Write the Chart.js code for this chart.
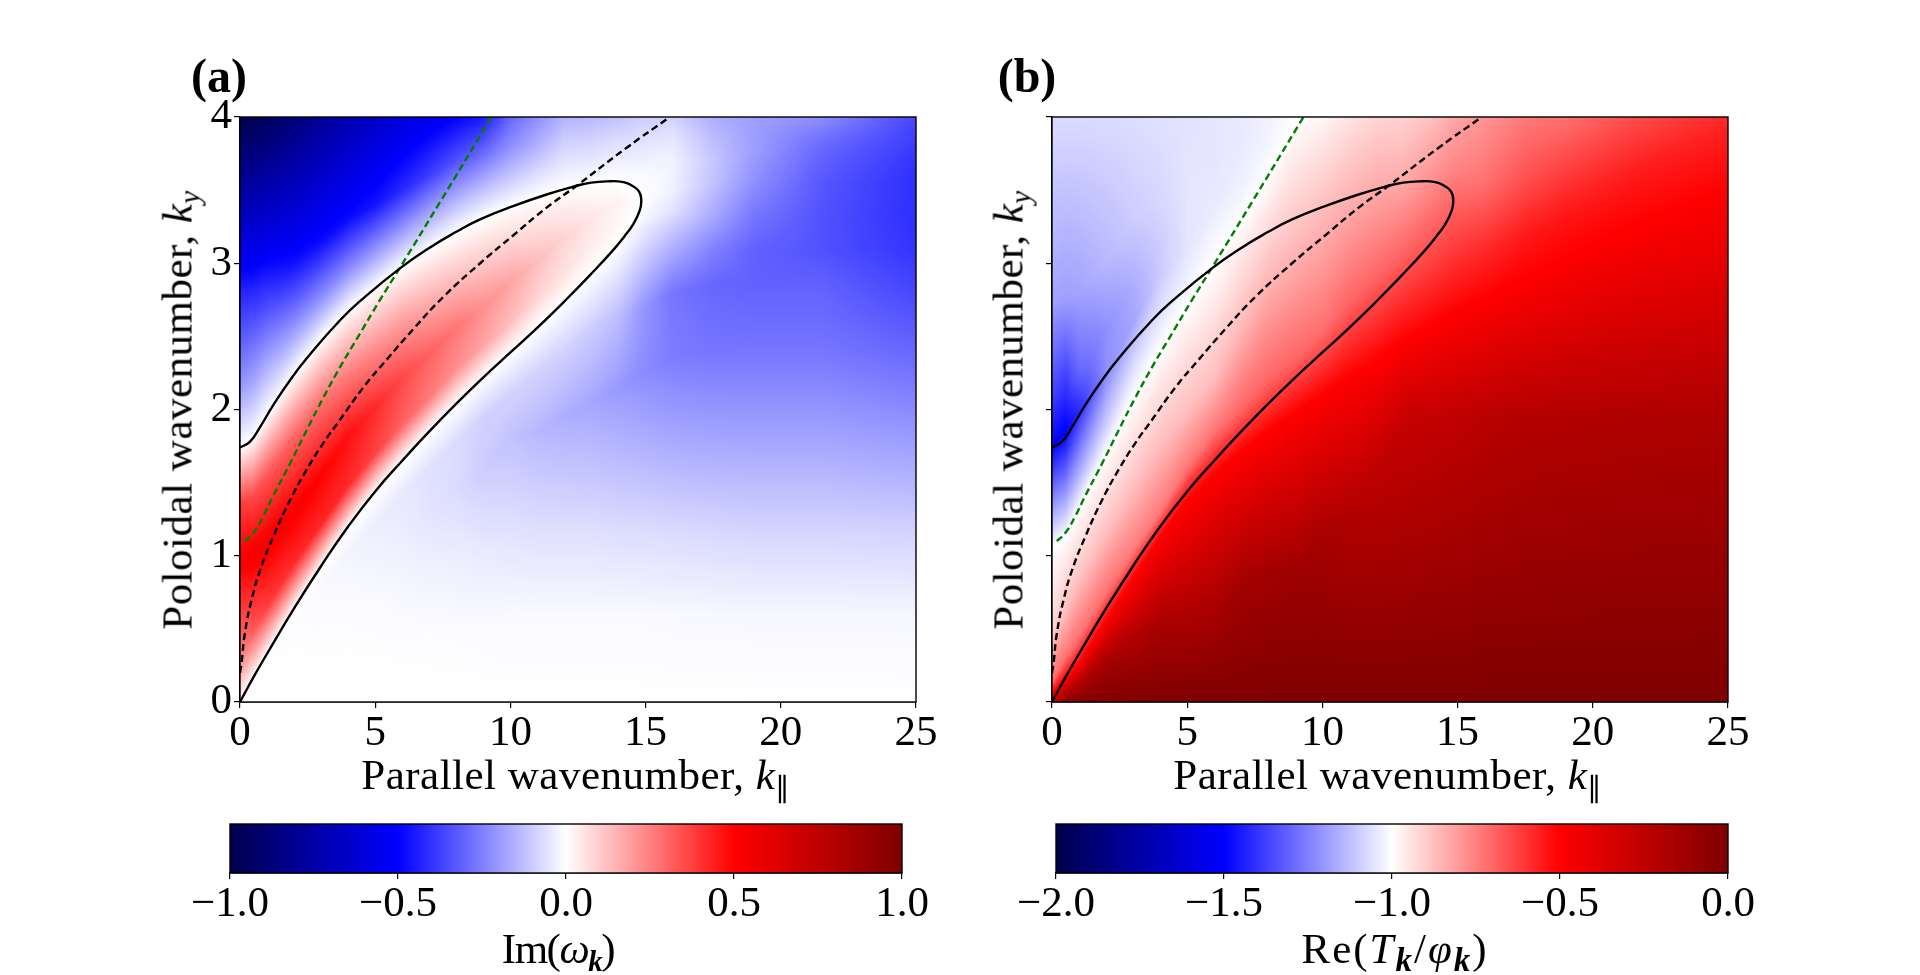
<!DOCTYPE html>
<html>
<head>
<meta charset="utf-8">
<script src="https://cdn.jsdelivr.net/npm/chart.js@4"></script>
<style>
html, body { margin: 0; padding: 0; background: #fff; width: 1920px; height: 975px; overflow: hidden; }
canvas { position: absolute; }
.lbl { position: absolute; font-family: "Liberation Serif", serif; font-size: 43px; color: #000; white-space: nowrap; line-height: 1; transform: translate(-50%, -50%); }
.lbl sub { font-size: 29px; line-height: 0; vertical-align: -8px; }
.rot { transform: translate(-50%, -50%) rotate(-90deg); }
.pan { font-weight: bold; font-size: 48px; }
</style>
</head>
<body>
<canvas id="panelA"></canvas>
<canvas id="panelB"></canvas>
<canvas id="barA"></canvas>
<canvas id="barB"></canvas>

<div class="lbl pan" style="left:219px;top:76px">(a)</div>
<div class="lbl pan" style="left:1027px;top:76px">(b)</div>
<div class="lbl" style="left:576px;top:774px;letter-spacing:0.5px">Parallel wavenumber, <i>k</i><sub>∥</sub></div>
<div class="lbl" style="left:1388px;top:774px;letter-spacing:0.5px">Parallel wavenumber, <i>k</i><sub>∥</sub></div>
<div class="lbl rot" style="left:177px;top:410px;letter-spacing:0.5px">Poloidal wavenumber, <i>k</i><sub><i>y</i></sub></div>
<div class="lbl rot" style="left:1008px;top:410px;letter-spacing:0.5px">Poloidal wavenumber, <i>k</i><sub><i>y</i></sub></div>
<div class="lbl" style="left:558px;top:948px;letter-spacing:-1.5px">Im(<i>ω</i><sub><b><i>k</i></b></sub>)</div>
<div class="lbl" style="left:1395px;top:948px;letter-spacing:2px">Re(<i>T</i><sub style="font-size:33px"><b><i>k</i></b></sub>/<i>φ</i><sub style="font-size:33px"><b><i>k</i></b></sub>)</div>

<script>
// kParallel columns of the two maps
var kColumns = [0, 0.5, 1, 2, 3, 4, 5, 6, 7, 8, 9, 10, 11, 12, 13, 14, 14.85, 16, 17.5, 19, 21.5, 25];

// Im(omega): for each column the ky of the read points and the value there
var growthY = [
  [0, 0, 0, 0, 0, 0, .3, .95, 1.35, 1.74, 2.2, 2.8, 4],
  [0, .03, .06, .09, .12, .16, .5, 1, 1.4, 1.81, 2.2, 2.8, 4],
  [0, .06, .12, .18, .24, .33, .65, 1.08, 1.55, 1.96, 2.3, 2.85, 4],
  [0, .15, .3, .42, .52, .64, .95, 1.3, 1.8, 2.24, 2.55, 3, 4],
  [0, .25, .45, .65, .78, .93, 1.22, 1.55, 2.05, 2.48, 2.75, 3.15, 4],
  [0, .3, .6, .85, 1.02, 1.2, 1.48, 1.82, 2.25, 2.68, 2.95, 3.3, 4],
  [0, .35, .7, 1, 1.22, 1.44, 1.7, 2.02, 2.42, 2.83, 3.08, 3.4, 4],
  [0, .4, .8, 1.15, 1.42, 1.65, 1.9, 2.22, 2.6, 2.98, 3.2, 3.5, 4],
  [0, .45, .9, 1.3, 1.6, 1.85, 2.08, 2.38, 2.74, 3.1, 3.32, 3.6, 4],
  [0, .47, 1, 1.45, 1.78, 2.04, 2.28, 2.56, 2.88, 3.21, 3.42, 3.7, 4],
  [0, .47, 1, 1.6, 1.95, 2.22, 2.44, 2.7, 3, 3.31, 3.5, 3.75, 4],
  [0, .6, 1.15, 1.8, 2.1, 2.39, 2.6, 2.87, 3.12, 3.39, 3.55, 3.8, 4],
  [0, .6, 1.15, 1.85, 2.25, 2.56, 2.78, 3.02, 3.24, 3.45, 3.6, 3.8, 4],
  [0, .6, 1.15, 1.95, 2.4, 2.74, 2.95, 3.18, 3.35, 3.51, 3.65, 3.85, 4],
  [0, .6, 1.15, 2.05, 2.55, 2.93, 3.12, 3.3, 3.43, 3.55, 3.68, 3.85, 4],
  [0, .6, 1.15, 2.15, 2.63, 3.12, 3.26, 3.42, 3.5, 3.555, 3.68, 3.85, 4],
  [0, .6, 1.15, 2.25, 2.7, 3.15, 3.32, 3.42, 3.43, 3.44, 3.6, 3.8, 4],
  [0, .6, 1.15, 2.35, 2.8, 3.15, 3.35, 3.5, 3.65, 3.72, 3.8, 3.9, 4],
  [0, .6, 1.15, 2.4, 2.86, 3.09, 3.32, 3.55, 3.7, 3.77, 3.85, 3.95, 4],
  [0, .6, 1.15, 2.41, 2.86, 3.09, 3.32, 3.55, 3.7, 3.77, 3.85, 3.95, 4],
  [0, .6, 1.15, 2.41, 2.86, 3.09, 3.32, 3.55, 3.7, 3.77, 3.85, 3.95, 4],
  [0, .6, 1.15, 2.41, 2.86, 3.09, 3.32, 3.55, 3.7, 3.77, 3.85, 3.95, 4]
];
var growthV = [
  [0, 0, 0, 0, 0, 0, .24, .52, .38, 0, -.22, -.43, -1],
  [0, 0, -.001, -.001, -.001, 0, .33, .53, .36, 0, -.18, -.42, -.98],
  [0, -.001, -.001, -.002, -.002, 0, .38, .53, .33, 0, -.16, -.42, -.95],
  [0, -.001, -.002, -.003, -.005, 0, .42, .52, .31, 0, -.2, -.47, -.88],
  [0, -.002, -.004, -.008, -.012, 0, .43, .5, .28, 0, -.21, -.48, -.8],
  [0, -.002, -.006, -.015, -.022, 0, .42, .47, .25, 0, -.22, -.48, -.72],
  [0, -.003, -.01, -.025, -.035, 0, .37, .42, .22, 0, -.2, -.46, -.66],
  [0, -.004, -.018, -.035, -.045, 0, .31, .36, .19, 0, -.18, -.42, -.6],
  [0, -.005, -.027, -.055, -.06, 0, .26, .31, .16, 0, -.16, -.38, -.55],
  [0, -.006, -.035, -.07, -.07, 0, .22, .27, .13, 0, -.14, -.34, -.5],
  [0, -.007, -.04, -.1, -.09, 0, .18, .22, .11, 0, -.12, -.29, -.45],
  [0, -.012, -.055, -.12, -.09, 0, .13, .18, .09, 0, -.09, -.22, -.3],
  [0, -.012, -.06, -.14, -.09, 0, .09, .13, .065, 0, -.06, -.15, -.22],
  [0, -.012, -.06, -.16, -.09, 0, .06, .085, .045, 0, -.04, -.1, -.15],
  [0, -.012, -.06, -.175, -.1, 0, .035, .05, .025, 0, -.04, -.09, -.14],
  [0, -.012, -.065, -.2, -.13, 0, .015, .025, .01, 0, -.025, -.07, -.12],
  [0, -.012, -.065, -.225, -.2, -.06, -.01, 0, 0, 0, -.01, -.05, -.1],
  [0, -.014, -.07, -.255, -.27, -.14, -.06, -.03, -.025, -.03, -.04, -.06, -.09],
  [0, -.015, -.075, -.27, -.3, -.25, -.17, -.12, -.11, -.12, -.13, -.15, -.16],
  [0, -.016, -.08, -.27, -.31, -.31, -.27, -.22, -.2, -.19, -.19, -.19, -.19],
  [0, -.016, -.08, -.27, -.31, -.34, -.34, -.33, -.31, -.3, -.28, -.24, -.22],
  [0, -.018, -.085, -.3, -.37, -.4, -.41, -.41, -.4, -.39, -.38, -.37, -.36]
];

// Re(T/phi), same idea
var ratioY = [
  [0, .03, .06, .13, .47, 1.05, 1.27, 1.75, 2.07, 2.75, 4],
  [0, .08, .16, .3, .62, 1.13, 1.35, 1.85, 2.15, 2.75, 4],
  [0, .14, .26, .44, .82, 1.32, 1.55, 2, 2.25, 2.8, 4],
  [0, .3, .56, .74, 1.15, 1.7, 1.9, 2.2, 2.55, 3, 4],
  [0, .45, .85, 1.03, 1.45, 2.07, 2.3, 2.6, 2.85, 3.3, 4],
  [0, .55, 1.13, 1.3, 1.75, 2.42, 2.62, 2.9, 3.1, 3.4, 4],
  [0, .65, 1.38, 1.6, 1.98, 2.72, 2.9, 3.1, 3.3, 3.6, 4],
  [0, .7, 1.56, 1.85, 2.2, 3, 3.2, 3.4, 3.5, 3.7, 4],
  [0, .8, 1.72, 2, 2.55, 3.3, 3.45, 3.55, 3.65, 3.8, 4],
  [0, .85, 1.85, 2.2, 2.85, 3.6, 3.7, 3.75, 3.8, 3.9, 4],
  [0, .9, 1.98, 2.35, 3.05, 3.97, 3.975, 3.98, 3.985, 3.99, 4],
  [0, 1.1, 2.1, 2.55, 3.25, 3.99, 3.992, 3.994, 3.996, 3.998, 4],
  [0, 1.3, 2.22, 2.75, 3.4, 4, 4, 4, 4, 4, 4],
  [0, 1.6, 2.33, 2.95, 3.55, 4, 4, 4, 4, 4, 4],
  [0, 1.95, 2.47, 3.09, 3.55, 4, 4, 4, 4, 4, 4],
  [0, 1.95, 2.57, 3.15, 3.6, 4, 4, 4, 4, 4, 4],
  [0, 1.95, 2.66, 3.2, 3.6, 4, 4, 4, 4, 4, 4],
  [0, 1.95, 2.76, 3.09, 3.55, 4, 4, 4, 4, 4, 4],
  [0, 1.95, 2.9, 3.2, 3.55, 4, 4, 4, 4, 4, 4],
  [0, 1.95, 3.04, 3.32, 3.55, 4, 4, 4, 4, 4, 4],
  [0, 1.95, 3.26, 3.4, 3.6, 4, 4, 4, 4, 4, 4],
  [0, 1.95, 3.51, 3.77, 3.9, 4, 4, 4, 4, 4, 4]
];
var ratioV = [
  [-.35, -.45, -.5, -.7, -.91, -1, -1.15, -1.5, -1.38, -1.18, -1.07],
  [-.02, -.25, -.5, -.72, -.87, -1, -1.15, -1.5, -1.4, -1.19, -1.07],
  [-.01, -.22, -.5, -.72, -.87, -1, -1.15, -1.42, -1.3, -1.18, -1.07],
  [-.005, -.17, -.5, -.72, -.87, -1, -1.1, -1.22, -1.22, -1.14, -1.07],
  [0, -.2, -.5, -.74, -.87, -1, -1.07, -1.18, -1.16, -1.1, -1.065],
  [0, -.17, -.5, -.74, -.87, -1, -1.05, -1.1, -1.1, -1.08, -1.06],
  [0, -.2, -.5, -.73, -.87, -1, -1.03, -1.05, -1.05, -1.05, -1.055],
  [0, -.18, -.5, -.73, -.87, -1, -1.02, -1.04, -1.045, -1.05, -1.05],
  [0, -.14, -.5, -.7, -.86, -1, -1.02, -1.03, -1.035, -1.04, -1.04],
  [0, -.13, -.5, -.7, -.85, -1, -1.01, -1.015, -1.02, -1.025, -1.03],
  [0, -.125, -.5, -.7, -.85, -1, -1, -1, -1, -1, -1],
  [0, -.15, -.5, -.72, -.85, -.98, -.98, -.98, -.98, -.98, -.98],
  [0, -.2, -.5, -.7, -.84, -.945, -.945, -.945, -.945, -.945, -.945],
  [0, -.25, -.5, -.71, -.84, -.915, -.915, -.915, -.915, -.915, -.915],
  [0, -.285, -.5, -.7, -.83, -.91, -.91, -.91, -.91, -.91, -.91],
  [0, -.27, -.5, -.67, -.79, -.88, -.88, -.88, -.88, -.88, -.88],
  [0, -.255, -.5, -.64, -.75, -.83, -.83, -.83, -.83, -.83, -.83],
  [0, -.23, -.5, -.58, -.72, -.79, -.79, -.79, -.79, -.79, -.79],
  [0, -.21, -.5, -.55, -.65, -.74, -.74, -.74, -.74, -.74, -.74],
  [0, -.2, -.5, -.54, -.6, -.72, -.72, -.72, -.72, -.72, -.72],
  [0, -.19, -.5, -.52, -.55, -.65, -.65, -.65, -.65, -.65, -.65],
  [0, -.18, -.5, -.54, -.56, -.58, -.58, -.58, -.58, -.58, -.58]
];

// curves drawn on both panels
var zeroContourX = [0, 0.5, 1, 2, 3, 4, 5, 6, 7, 8, 9, 10, 11, 12, 13, 13.8, 14.2, 14.55, 14.78, 14.84, 14.76, 14.5, 14.18, 13.56, 12.94, 12.45, 11.34, 10.1, 8.88, 8, 7, 5.95, 4.56, 3.7, 2.47, 1.85, 1.23, 0.74, 0.37, 0];
var zeroContourY = [0, 0.17, 0.33, 0.64, 0.93, 1.2, 1.44, 1.65, 1.85, 2.04, 2.22, 2.39, 2.56, 2.74, 2.93, 3.09, 3.18, 3.27, 3.36, 3.43, 3.49, 3.53, 3.555, 3.56, 3.55, 3.53, 3.47, 3.39, 3.3, 3.215, 3.105, 2.97, 2.76, 2.61, 2.35, 2.2, 2.03, 1.88, 1.78, 1.74];
var resonanceX = [0, 0.06, 0.18, 0.43, 0.74, 1.23, 1.85, 2.47, 3.08, 3.7, 4.56, 5.42, 6.41, 7.52, 8.88, 10.1, 11.34, 12.45, 14.3, 15.9];
var resonanceY = [0.2, 0.27, 0.47, 0.7, 0.9, 1.13, 1.38, 1.59, 1.77, 1.93, 2.15, 2.34, 2.55, 2.77, 3, 3.19, 3.38, 3.53, 3.79, 4];
var thresholdX = [0.18, 0.49, 0.86, 1.23, 1.85, 2.47, 3.08, 3.7, 4.31, 5.18, 5.95, 7.6, 9.3];
var thresholdY = [1.1, 1.155, 1.27, 1.41, 1.63, 1.86, 2.08, 2.29, 2.48, 2.75, 2.98, 3.48, 4];

var parallelTicks = [0, 5, 10, 15, 20, 25];
var poloidalTicks = [0, 1, 2, 3, 4];
var barTicksIm = [-1, -0.5, 0, 0.5, 1];
var barTicksRe = [-2, -1.5, -1, -0.5, 0];

var tickFont = { family: 'Liberation Serif', size: 43 };

function zip(xs, ys) {
    return xs.map(function (x, i) { return { x: x, y: ys[i] }; });
}

// seismic colormap, t from 0 to 1
function seismic(t) {
    t = Math.max(0, Math.min(1, t));
    if (t < 0.25) return [0, 0, 76 + (255 - 76) * t / 0.25];
    if (t < 0.5) { var a = (t - 0.25) / 0.25; return [255 * a, 255 * a, 255]; }
    if (t < 0.75) { var b = (t - 0.5) / 0.25; return [255, 255 * (1 - b), 255 * (1 - b)]; }
    return [255 - 128 * (t - 0.75) / 0.25, 0, 0];
}

// shades the map under the lines, every pixel goes back through the chart scales
function heatPlugin(knotY, knotV, vmin, vmax) {
    return {
        id: 'heat',
        beforeDatasetsDraw: function (chart) {
            var area = chart.chartArea, xs = chart.scales.x, ys = chart.scales.y;
            var w = Math.round(area.right - area.left), h = Math.round(area.bottom - area.top);
            var off = document.createElement('canvas');
            off.width = w; off.height = h;
            var octx = off.getContext('2d');
            var img = octx.createImageData(w, h);
            var n = knotY[0].length;
            var yk = new Array(n), vk = new Array(n);
            for (var px = 0; px < w; px++) {
                var kx = xs.getValueForPixel(area.left + px + 0.5);
                var i = 0;
                while (i < kColumns.length - 2 && kx > kColumns[i + 1]) i++;
                var fx = (kx - kColumns[i]) / (kColumns[i + 1] - kColumns[i]);
                for (var m = 0; m < n; m++) {
                    yk[m] = knotY[i][m] * (1 - fx) + knotY[i + 1][m] * fx;
                    vk[m] = knotV[i][m] * (1 - fx) + knotV[i + 1][m] * fx;
                }
                for (var py = 0; py < h; py++) {
                    var ky = ys.getValueForPixel(area.top + py + 0.5);
                    var j = 0;
                    while (j < n - 2 && (ky > yk[j + 1] || yk[j + 1] <= yk[j])) j++;
                    var gap = yk[j + 1] - yk[j];
                    var v = gap > 0 ? vk[j] + (vk[j + 1] - vk[j]) * Math.min(1, (ky - yk[j]) / gap) : vk[j + 1];
                    var c = seismic((v - vmin) / (vmax - vmin));
                    var o = (py * w + px) * 4;
                    img.data[o] = c[0]; img.data[o + 1] = c[1]; img.data[o + 2] = c[2]; img.data[o + 3] = 255;
                }
            }
            octx.putImageData(img, 0, 0);
            chart.ctx.drawImage(off, area.left, area.top);
        },
        afterDraw: frame
    };
}

function barPlugin() {
    return {
        id: 'bar',
        beforeDatasetsDraw: function (chart) {
            var area = chart.chartArea, xs = chart.scales.x, ctx = chart.ctx;
            for (var px = Math.round(area.left); px < area.right; px++) {
                var c = seismic((xs.getValueForPixel(px + 0.5) - xs.min) / (xs.max - xs.min));
                ctx.fillStyle = 'rgb(' + c[0] + ',' + c[1] + ',' + c[2] + ')';
                ctx.fillRect(px, area.top, 1, area.bottom - area.top);
            }
        },
        afterDraw: frame
    };
}

function frame(chart) {
    var a = chart.chartArea, ctx = chart.ctx;
    ctx.save();
    ctx.strokeStyle = '#000';
    ctx.lineWidth = 1.4;
    ctx.strokeRect(a.left, a.top, a.right - a.left, a.bottom - a.top);
    ctx.restore();
}

function place(id, left, top, w, h) {
    var c = document.getElementById(id);
    c.style.left = left + 'px';
    c.style.top = top + 'px';
    c.style.width = w + 'px';
    c.style.height = h + 'px';
    c.width = w;
    c.height = h;
    return c;
}

function tickList(list) {
    return function (scale) {
        scale.ticks = list.map(function (v) { return { value: v }; });
    };
}

function panel(id, left, knotY, knotV, vmin, vmax, showY) {
    // canvas runs 100px left of the axes, 40px above and right
    var c = place(id, left - 100, 77, 816, 695);
    new Chart(c, {
        type: 'scatter',
        data: {
            datasets: [
                { data: zip(zeroContourX, zeroContourY), borderColor: '#000', borderWidth: 2.4, showLine: true, tension: 0.5, pointRadius: 0 },
                { data: zip(resonanceX, resonanceY), borderColor: '#000', borderWidth: 2.4, borderDash: [7, 4], showLine: true, tension: 0.5, pointRadius: 0 },
                { data: zip(thresholdX, thresholdY), borderColor: '#007f00', borderWidth: 2.4, borderDash: [7, 4], showLine: true, tension: 0.5, pointRadius: 0 }
            ]
        },
        options: {
            responsive: false,
            animation: false,
            devicePixelRatio: 1,
            layout: { padding: { top: 40, right: 40 } },
            plugins: { legend: { display: false }, tooltip: { enabled: false } },
            scales: {
                x: {
                    type: 'linear', min: 0, max: 25,
                    afterBuildTicks: tickList(parallelTicks),
                    afterFit: function (s) { s.height = 70; },
                    grid: { drawOnChartArea: false, tickLength: 6, color: '#000', lineWidth: 1.2 },
                    border: { color: '#000', width: 1.4 },
                    ticks: { font: tickFont, color: '#000', padding: 0, maxRotation: 0, autoSkip: false, callback: function (v) { return String(v); } }
                },
                y: {
                    type: 'linear', min: 0, max: 4,
                    afterBuildTicks: tickList(poloidalTicks),
                    afterFit: function (s) { s.width = 100; },
                    grid: { drawOnChartArea: false, tickLength: 6, color: '#000', lineWidth: 1.2 },
                    border: { color: '#000', width: 1.4 },
                    ticks: { font: tickFont, color: '#000', padding: 2, autoSkip: false, callback: function (v) { return showY ? String(v) : ''; } }
                }
            }
        },
        plugins: [heatPlugin(knotY, knotV, vmin, vmax)]
    });
}

function colorbar(id, canvasLeft, barLeft, barWidth, ticks) {
    var pad = barLeft - canvasLeft;
    var c = place(id, canvasLeft, 814, barWidth + pad + 70, 116);
    new Chart(c, {
        type: 'scatter',
        data: { datasets: [{ data: [{ x: ticks[0], y: 0 }, { x: ticks[ticks.length - 1], y: 1 }], pointRadius: 0 }] },
        options: {
            responsive: false,
            animation: false,
            devicePixelRatio: 1,
            layout: { padding: { top: 10, left: pad, right: 70 } },
            plugins: { legend: { display: false }, tooltip: { enabled: false } },
            scales: {
                x: {
                    type: 'linear', min: ticks[0], max: ticks[ticks.length - 1],
                    afterBuildTicks: tickList(ticks),
                    afterFit: function (s) { s.height = 57; },
                    grid: { drawOnChartArea: false, tickLength: 6, color: '#000', lineWidth: 1.2 },
                    border: { color: '#000', width: 1.4 },
                    ticks: { font: tickFont, color: '#000', padding: 0, maxRotation: 0, autoSkip: false,
                        callback: function (v) { return v.toFixed(1).replace('-', '\u2212'); } }
                },
                y: { display: false, min: 0, max: 1 }
            }
        },
        plugins: [barPlugin()]
    });
}

panel('panelA', 240, growthY, growthV, -1, 1, true);
panel('panelB', 1052, ratioY, ratioV, -2, 0, false);
colorbar('barA', 130, 230, 672, barTicksIm);
colorbar('barB', 970, 1056, 672, barTicksRe);
</script>
</body>
</html>
